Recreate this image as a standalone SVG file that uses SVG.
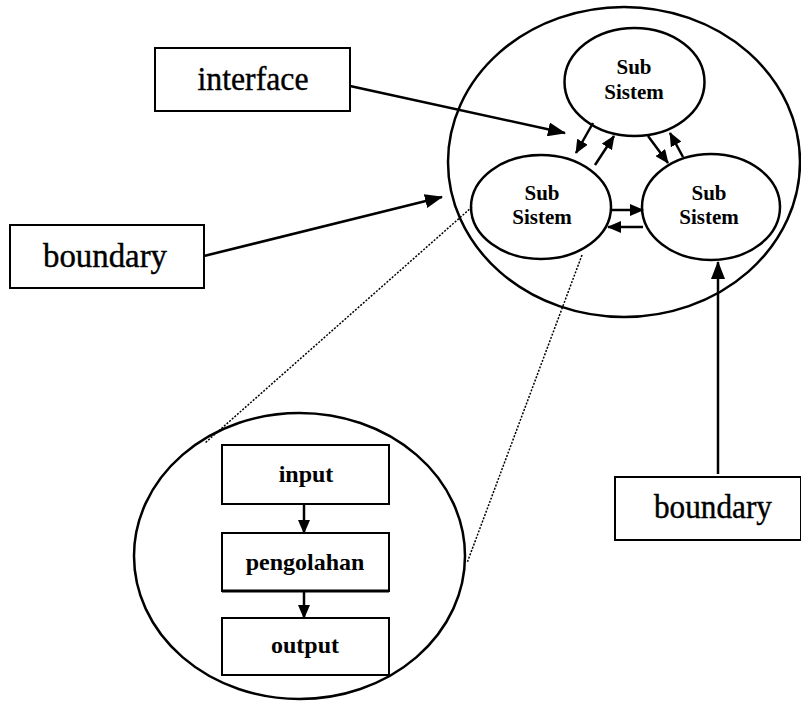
<svg xmlns="http://www.w3.org/2000/svg" width="801" height="701" viewBox="0 0 801 701">
<style>
.shape{fill:#fff;stroke:#000;stroke-width:2.5}
.box{fill:#fff;stroke:#000;stroke-width:2}
.lbl{font-family:"Liberation Serif","Times New Roman",serif;font-size:33px;fill:#000;stroke:#000;stroke-width:0.4;text-anchor:middle}
.sub{font-family:"Liberation Serif","Times New Roman",serif;font-size:21px;font-weight:bold;fill:#000;text-anchor:middle}
.inner{font-family:"Liberation Serif","Times New Roman",serif;font-size:24px;font-weight:bold;fill:#000;text-anchor:middle}
.conn{stroke:#000;stroke-width:2.5;fill:none}
.dot{stroke:#000;stroke-width:1.5;stroke-dasharray:2 1.5;fill:none}
</style>
<defs>
<marker id="ah" markerUnits="userSpaceOnUse" markerWidth="18" markerHeight="14" refX="17" refY="7" orient="auto">
<path d="M0,0 L18,7 L0,14 z" fill="#000"/>
</marker>
<marker id="as" markerUnits="userSpaceOnUse" markerWidth="14" markerHeight="12" refX="13" refY="6" orient="auto">
<path d="M0,0 L14,6 L0,12 z" fill="#000"/>
</marker>
</defs>
<rect width="801" height="701" fill="#fff"/>
<g id="system">
<ellipse class="shape" cx="624" cy="162" rx="176" ry="155"/>
</g>
<g id="sub-top">
<ellipse class="shape" cx="634.5" cy="82" rx="70" ry="54"/>
<text class="sub" x="634" y="74">Sub</text>
<text class="sub" x="634" y="99">Sistem</text>
</g>
<g id="sub-left">
<ellipse class="shape" cx="541" cy="207" rx="70" ry="52"/>
<text class="sub" x="542" y="200">Sub</text>
<text class="sub" x="542" y="224">Sistem</text>
</g>
<g id="sub-right">
<ellipse class="shape" cx="711" cy="207" rx="69" ry="53"/>
<text class="sub" x="709" y="200">Sub</text>
<text class="sub" x="709" y="224">Sistem</text>
</g>
<g id="interface">
<rect class="box" x="155" y="48" width="195" height="63"/>
<text class="lbl" x="253" y="90" textLength="111" lengthAdjust="spacingAndGlyphs">interface</text>
</g>
<g id="boundary-left">
<rect class="box" x="10" y="225" width="194" height="63"/>
<text class="lbl" x="105" y="267" textLength="124" lengthAdjust="spacingAndGlyphs">boundary</text>
</g>
<g id="boundary-right">
<rect class="box" x="615" y="477" width="186" height="63"/>
<text class="lbl" x="713" y="518" textLength="118" lengthAdjust="spacingAndGlyphs">boundary</text>
</g>
<g id="detail">
<ellipse class="shape" cx="299.5" cy="556" rx="165.5" ry="143"/>
</g>
<g id="input">
<rect class="box" x="222" y="445" width="167" height="59"/>
<text class="inner" x="306" y="482">input</text>
</g>
<g id="pengolahan">
<rect class="box" x="222" y="533" width="167" height="58"/>
<line x1="222" y1="591" x2="389" y2="591" stroke="#000" stroke-width="3"/>
<text class="inner" x="305" y="570">pengolahan</text>
</g>
<g id="output">
<rect class="box" x="222" y="618" width="167" height="57"/>
<text class="inner" x="305" y="653">output</text>
</g>
<g id="connectors">
<line class="conn" x1="350" y1="86" x2="565" y2="133" marker-end="url(#ah)"/>
<line class="conn" x1="204" y1="256" x2="442" y2="197" marker-end="url(#ah)"/>
<line class="conn" x1="718" y1="474" x2="718" y2="262" marker-end="url(#ah)"/>
<line class="conn" x1="593" y1="123" x2="576" y2="153" marker-end="url(#as)"/>
<line class="conn" x1="595" y1="165" x2="614" y2="136" marker-end="url(#as)"/>
<line class="conn" x1="648" y1="136" x2="668" y2="163" marker-end="url(#as)"/>
<line class="conn" x1="683" y1="157" x2="670" y2="133" marker-end="url(#as)"/>
<line class="conn" x1="612" y1="210" x2="643" y2="210" marker-end="url(#as)"/>
<line class="conn" x1="643" y1="227" x2="608" y2="227" marker-end="url(#as)"/>
<line class="conn" x1="304" y1="504" x2="304" y2="533" marker-end="url(#as)"/>
<line class="conn" x1="304" y1="591" x2="304" y2="618" marker-end="url(#as)"/>
<line class="dot" x1="472" y1="207" x2="205" y2="443"/>
<line class="dot" x1="582" y1="255" x2="467" y2="563"/>
</g>
</svg>
